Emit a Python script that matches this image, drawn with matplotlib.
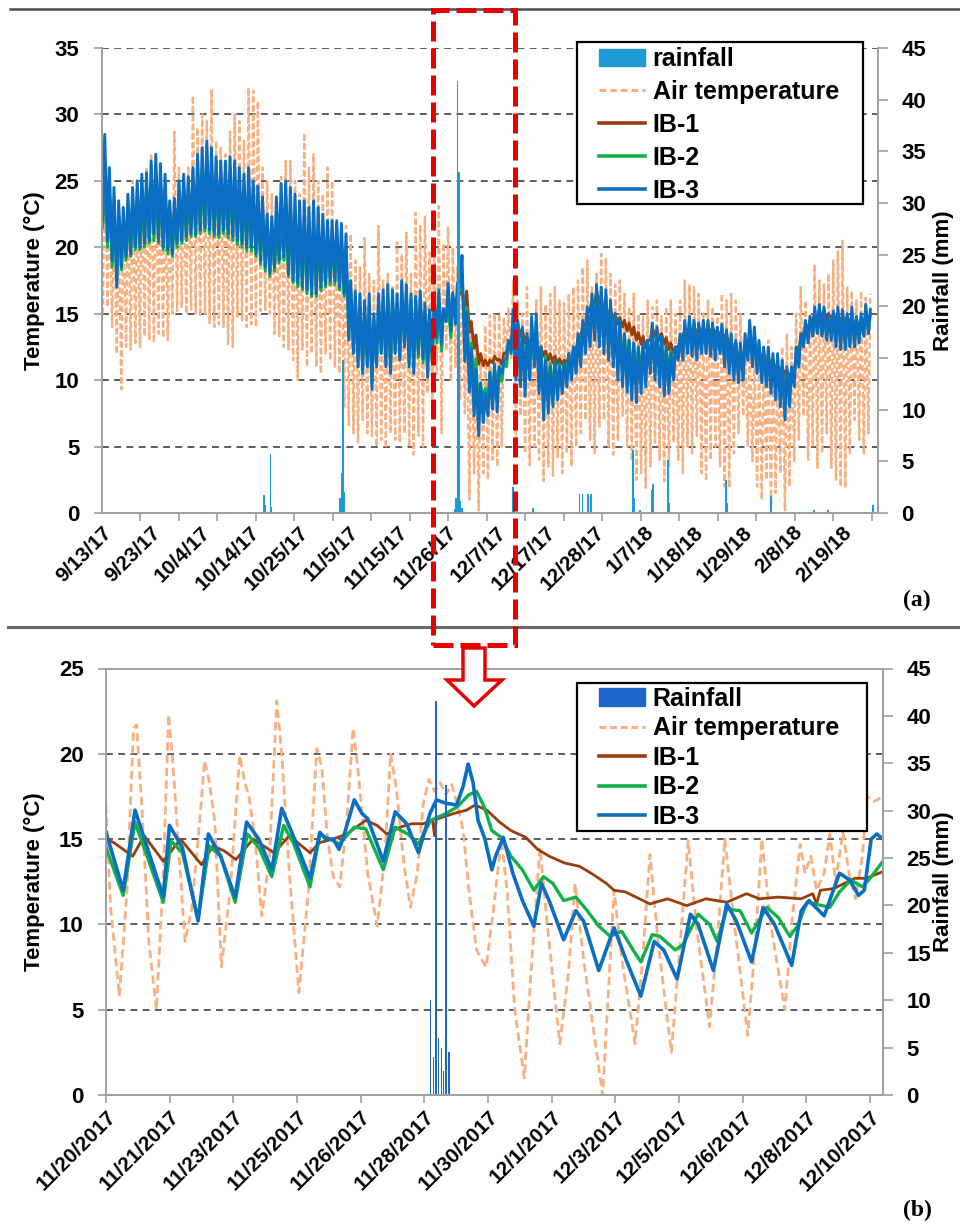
import numpy as np
import matplotlib
matplotlib.use("Agg")
import matplotlib.pyplot as plt
from matplotlib.patches import Patch, Rectangle, Polygon
from matplotlib.lines import Line2D

plt.rcParams['font.family'] = ['Liberation Sans', 'DejaVu Sans']
plt.rcParams['font.weight'] = 'bold'

# ---------------- Panel (a): daily min / max, day 0 = 9/13/17 ----------------
a_air_max = [
    27, 25, 23, 22, 23, 24, 25, 24, 25, 26,
    27, 26.5, 25, 24.5, 23, 28.7, 26, 25, 26, 31.4,
    29, 30, 29.5, 31.9, 28, 27.5, 27, 28.7, 30, 29.5,
    28, 32, 31.8, 31, 26, 25, 24, 23, 25.3, 26.5,
    26.5, 25, 24, 28.6, 26, 27, 25, 24, 26, 25,
    22, 21.5, 21.6, 21, 19, 18.5, 20.7, 18, 17.5, 21.6,
    17.5, 18, 17, 20.4, 19.5, 21.1, 18, 22.6, 21.7, 22.3,
    19.6, 19.9, 23.1, 20.3, 21.5, 20, 18.5, 18.3, 15.4, 14.5,
    12.4, 12, 14.1, 14.9, 15, 15, 14.7, 15.4, 17.5, 16,
    15, 17, 14.8, 16, 17, 15.7, 16.5, 17, 16, 15.8,
    16.5, 17, 17.5, 18.5, 19, 17, 18, 19.5, 19.2, 18,
    17.2, 17.5, 16.5, 15.5, 16.5, 15, 14.8, 16, 15.5, 16,
    14.8, 15.5, 16, 15, 16, 17.5, 17.2, 17, 16.5, 15,
    16, 15.5, 14.8, 16.5, 16, 16.5, 16, 15, 13.5, 12.5,
    12, 11.5, 12.5, 13, 12, 11.8, 12.5, 13.5, 12.5, 15,
    17, 16, 15, 18.7, 17.5, 17.2, 18, 19, 19.7, 20.5,
    17, 16.7, 16, 16.7, 16.2, 16.5]
a_air_min = [
    15, 15.5, 14, 12, 9.3, 12.5, 12.3, 12.8, 12.5, 13.3,
    13, 12.8, 13.5, 13.2, 13, 15, 15.2, 15.5, 15, 15.3,
    15, 14.8, 15, 14.3, 14, 14.2, 14, 12.7, 12.5, 14.8,
    14.5, 14, 14.2, 14, 15.2, 15.3, 15, 13.5, 13.3, 12.5,
    12.3, 11.5, 10, 12.3, 11, 12, 11, 10.5, 12, 11.5,
    11, 10.5, 8, 6.6, 6, 5.3, 7, 6, 5.8, 5,
    5.5, 4.9, 6, 5.5, 5.3, 6, 5, 4.4, 5.8, 5.0,
    9.0, 7.5, 10.5, 6.0, 12.2, 9.9, 11, 8.5, 7.5, 1.0,
    3.0, 0.2, 3.0, 2.5, 4.0, 3.5, 5.0, 12, 11.5, 5.5,
    7.3, 4.5, 3.6, 5, 4, 2.4, 3.5, 2.8, 4.2, 3,
    4.5, 3.5, 5, 6, 7, 5.5, 4.5, 6.5, 7, 5,
    4.4, 5.5, 7.3, 5, 3.9, 2.5, 3, 1.9, 3.5, 5.3,
    4, 2.4, 3.5, 5.3, 4, 3, 5, 4.5, 5.8, 3,
    2.4, 4, 5, 3.5, 2, 1.9, 4.5, 6, 7.3, 5,
    3.9, 2, 1, 2.5, 0.5, 1.5, 3, 0.2, 2, 3.9,
    5.5, 7.3, 4, 5, 3.4, 4.5, 6, 3.4, 2.5, 2,
    1.9, 4.4, 7, 5.5, 4.4, 6]
a_ib1_max = [
    24, 23, 22, 21.5, 21.5, 22, 22.5, 22.5, 23, 23,
    23.5, 23.5, 23.5, 23, 22.5, 22, 22.5, 23, 23, 23.5,
    24, 24, 24.5, 24.5, 24, 24, 23.5, 23.5, 23.5, 23,
    23, 22.5, 22.5, 22, 21.5, 21, 20.5, 20.5, 21, 21.5,
    21, 20.5, 20, 20, 19.5, 19.5, 19.5, 19.5, 19.5, 19.5,
    19.5, 19, 18.5, 16.5, 15.5, 15, 14.5, 14.5, 14, 14.5,
    15, 15, 15, 15, 15.5, 15.5, 15, 15, 15.2, 15.0,
    14.6, 15.0, 15.2, 14.8, 15.3, 16.1, 16.3, 17.0, 16.7, 14.4,
    13.4, 12.0, 11.5, 11.5, 11.8, 11.6, 12.0, 12.7, 14.5, 14.3,
    13.8, 13.3, 13, 12.8, 12.5, 12.2, 12, 11.8, 11.6, 11.5,
    11.8, 12.3, 13, 14, 15, 16, 16.7, 16.3, 15.7, 15.3,
    15, 14.7, 14.5, 14.3, 14, 13.6, 13.3, 13, 14, 13.8,
    13.5, 13.2, 12.8, 12.5, 13, 13.8, 14, 14, 14, 14,
    14, 14, 13.8, 13.8, 13.5, 13, 12.5, 12, 12.5, 12.8,
    12.6, 12.3, 12, 11.8, 11.5, 11.2, 11, 10.8, 10.6, 11.5,
    13, 14, 14.5, 15, 15.2, 15.2, 15, 15, 15, 14.8,
    14.8, 14.8, 14.5, 14.5, 14.8, 15]
a_ib1_min = [
    22.5, 21.5, 20.5, 20, 20, 20.5, 21, 21.2, 21.5, 21.5,
    22, 22, 22, 21.5, 21, 20.8, 21, 21.5, 21.5, 22,
    22.5, 22.5, 22.8, 22.8, 22.5, 22.3, 22, 22, 22, 21.5,
    21.5, 21, 21, 20.5, 20, 19.5, 19, 19, 19.5, 20,
    19.5, 19, 18.5, 18.5, 18, 18, 18, 18, 18.2, 18.5,
    18.5, 18, 17, 15, 14, 13.5, 13, 13, 12.5, 13,
    13.5, 13.5, 13.5, 13.5, 14, 14, 13.5, 13.5, 14.0, 13.7,
    13.5, 13.8, 14.2, 14.2, 15.0, 15.3, 15.9, 16.5, 15.1, 13.6,
    12.4, 11.2, 11.1, 11.1, 11.3, 11.5, 11.2, 12.1, 12.7, 13.8,
    13.3, 12.8, 12.5, 12.3, 12, 11.8, 11.5, 11.3, 11.2, 11.2,
    11.3, 11.6, 12.3, 13.3, 14.3, 15.3, 15.8, 15.7, 15, 14.7,
    14.5, 14.2, 14, 13.7, 13.4, 13, 12.7, 12.4, 13, 13.3,
    13, 12.7, 12.3, 12, 12.5, 13.3, 13.5, 13.5, 13.5, 13.5,
    13.5, 13.5, 13.3, 13.3, 13, 12.5, 12, 11.5, 11.8, 12.3,
    12.1, 11.8, 11.5, 11.3, 11, 10.8, 10.5, 10.3, 10.2, 10.8,
    12.5, 13.5, 14, 14.5, 14.7, 14.7, 14.5, 14.5, 14.5, 14.3,
    14.3, 14.3, 14, 14, 14.3, 14.5]
a_ib2_max = [
    26, 24.5, 23, 22.5, 22, 23, 23.5, 24, 24, 24.5,
    25, 25.5, 25, 24.5, 23, 22.5, 24, 24.5, 24.5, 25,
    25.5, 26, 26.5, 26, 25.5, 25.5, 25.5, 25.5, 25, 25,
    24.5, 24.5, 24, 23.5, 23, 22, 21.5, 22.5, 23, 23.5,
    23, 22.5, 22, 22, 21.5, 22, 21.5, 21, 21, 21,
    21, 20.5, 20, 17, 16, 15.5, 15, 15.5, 14.5, 15.5,
    16, 16.3, 16, 15.8, 16.5, 16.5, 16, 15.8, 16, 14.9,
    14.6, 15.3, 15.8, 15.3, 15.7, 15.7, 16.5, 17.8, 15.5, 12.8,
    11.6, 9.6, 9.4, 10.6, 10.9, 11.0, 11.3, 12.6, 13.7, 14,
    13.5, 13, 14, 14.3, 12.5, 11.8, 11.3, 11.5, 11.2, 11.3,
    12, 12.3, 13.2, 14.2, 15.2, 16, 16.7, 16.5, 16.2, 15.6,
    14.7, 14.2, 13.5, 13, 12.8, 12.5, 12.6, 12.8, 13.8, 13.6,
    13.2, 12.6, 12.2, 12.4, 13.2, 14, 14.4, 14.3, 14.1, 14.2,
    14.2, 14, 13.8, 13.9, 13.5, 13.2, 12.8, 12.5, 13, 14,
    13.5, 12.7, 12.2, 12, 11.6, 11.3, 11, 10.6, 10.5, 12,
    13.3, 14.2, 14.5, 15, 15.3, 15.2, 14.8, 14.9, 15.1, 15,
    14.8, 15, 14.6, 14.7, 15.2, 15]
a_ib2_min = [
    21.5, 20, 18.5, 17.5, 18.3, 19, 19.3, 19.8, 19.8, 20,
    20.3, 20.5, 20.3, 19.8, 19.5, 19.3, 20, 20.3, 20.5, 20.8,
    20.8, 21, 21.2, 21, 20.8, 20.7, 21, 20.7, 20.5, 20.2,
    20, 19.7, 19.7, 19.3, 18.7, 18.2, 17.8, 18.2, 18.8, 19,
    17.8, 17.3, 17, 16.8, 16.5, 16.3, 16.3, 16.7, 17, 17.2,
    17.2, 16.8, 16.3, 13.3, 12.5, 11.5, 11, 11.3, 9.8, 11.3,
    12.3, 11.5, 11, 12.3, 12, 12.8, 11.5, 11, 11.7, 11.3,
    10.3, 11.3, 12.8, 12.2, 14.7, 13.2, 14.7, 16.9, 13.2, 11.4,
    9.9, 7.8, 8.5, 8.8, 9.0, 9.3, 9.9, 11.0, 12.2, 11,
    10.5, 10, 10.8, 11.5, 10, 8.5, 8.5, 9, 9.5, 9.8,
    10.3, 10.8, 11.3, 11.8, 12.7, 13.3, 13.8, 13.5, 13, 12.5,
    11.8, 11, 10.8, 10.6, 10.3, 10.3, 10.5, 10.8, 11.3, 11,
    10.5, 10.2, 10.2, 10.8, 12, 12.3, 12.5, 12.3, 12.2, 12.4,
    12.4, 12.3, 12, 12.3, 11.8, 11.3, 10.8, 10.5, 10.8, 12,
    11.5, 11, 10.5, 10.3, 9.8, 9.5, 9.2, 8.5, 9, 10.2,
    11.8, 12.8, 13.2, 13.5, 13.6, 13.5, 13.2, 13.3, 13, 12.9,
    12.8, 13, 13, 13.2, 13.5, 13.7]
a_ib3_max = [
    28.5, 26, 24.5, 23.5, 23, 24, 24.5, 25, 25.5, 25.6,
    26.5, 27, 26.3, 25.5, 23.5, 23.7, 25, 25.5, 25.3, 26,
    27, 27.5, 28, 27.5, 26.8, 26.5, 26.5, 26.8, 26.5, 26,
    25.5, 26, 25, 24.6, 23.8, 22.5, 22.3, 23.8, 24.8, 25,
    24.5, 24, 23.5, 23.5, 23, 23.5, 23, 22.5, 22, 22,
    22, 21.8, 21, 17.5, 16.7, 16.5, 16, 16.5, 15, 16.5,
    16.8, 17.2, 16.8, 16.5, 17.5, 17.2, 16.5, 16.3, 16.7, 15.8,
    15.3, 16, 16.8, 15.4, 17.3, 16.6, 17.3, 19.4, 15.1, 12.4,
    10.8, 9.8, 9.0, 10.6, 11.2, 11.0, 11.4, 13.0, 15.3, 14.5,
    14, 13.5, 14.8, 15, 12.5, 11.5, 11, 11.5, 11, 11.3,
    12, 12.5, 13.5, 14.5, 15.5, 16.5, 17.2, 17, 16.8, 16,
    15, 14.5, 13.5, 13, 12.8, 12.5, 12.8, 13, 14.3, 14,
    13.3, 12.5, 12, 12.5, 13.5, 14.5, 14.8, 14.5, 14.3, 14.5,
    14.5, 14.3, 14, 14.2, 13.8, 13.5, 13, 12.8, 13.5, 14.5,
    14, 13, 12.5, 12.5, 12, 12, 11.5, 11, 11, 12.5,
    13.5, 14.5, 14.8, 15.5, 15.7, 15.5, 15, 15.2, 15.5, 15.3,
    15, 15.5, 14.8, 15, 15.7, 15.3]
a_ib3_min = [
    22, 20.5, 19, 17, 18.5, 19.3, 19.5, 20, 20, 20.3,
    20.5, 21, 20.5, 20, 19.8, 19.5, 20.3, 20.5, 20.8, 21,
    21, 21.3, 21.5, 21.3, 21, 21, 21.3, 21, 20.8, 20.5,
    20.3, 20, 20, 19.5, 19, 18.5, 18, 18.5, 19, 19.3,
    18, 17.5, 17.3, 17, 16.8, 16.5, 16.5, 17, 17.2, 17.5,
    17.5, 17, 16.5, 13, 12, 11, 10.5, 11, 9.3, 11,
    12, 11, 10.5, 12, 11.5, 12.5, 11, 10.5, 12, 11.6,
    10.2, 11.6, 13.2, 12.7, 14.4, 13.7, 14.2, 17.0, 11.4, 9.1,
    7.3, 5.8, 6.8, 7.3, 7.8, 7.6, 10.5, 11.7, 12, 10,
    9.5, 8.8, 10, 11, 9, 7, 7.5, 8, 8.5, 9,
    9.5, 10, 10.5, 11, 12, 12.5, 13, 12.5, 12, 11.5,
    11, 10, 9.5, 9.1, 8.5, 8.3, 9, 9.5, 10.5, 10,
    9.5, 8.8, 9, 10, 11.5, 11.5, 12, 11.8, 11.5, 12,
    12, 11.8, 11.5, 12, 11, 10.5, 10, 9.8, 10, 11.5,
    11, 10.5, 9.8, 9.5, 9, 8.5, 8, 7, 8, 9.5,
    11, 12.5, 12.8, 13.3, 13.5, 13.3, 13, 13, 12.5, 12.3,
    12.3, 12.5, 12.5, 12.8, 13.3, 13.5]
a_rain_day = [35.0, 35.3, 36.4, 36.6, 51.4, 51.8, 52.0, 52.3, 76.0, 76.4, 76.7,
              77.0, 77.2, 77.6, 88.6, 88.9, 92.9, 103.0, 103.6, 104.8, 105.5,
              114.5, 114.8, 116.0, 118.5, 118.8, 122.0, 122.3, 134.5, 134.8,
              144.2, 153.5, 156.5, 166.2]
a_rain_mm = [1.7, 0.8, 5.7, 0.6, 1.5, 3.9, 14.8, 2.0, 0.4, 1.5, 41.8,
             33.0, 1.2, 0.5, 2.5, 0.8, 0.5, 1.8, 1.8, 1.8, 1.8,
             6.1, 1.5, 0.3, 2.2, 2.8, 5.1, 1.0, 3.2, 1.0,
             1.6, 0.3, 0.3, 0.8]
a_labels = ['9/13/17', '9/23/17', '10/4/17', '10/14/17', '10/25/17', '11/5/17',
            '11/15/17', '11/26/17', '12/7/17', '12/17/17', '12/28/17', '1/7/18',
            '1/18/18', '1/29/18', '2/8/18', '2/19/18']

# ---------------- Panel (b): time in days from 11/20/2017 00:00 ----------------
b_air_t = [0.0, 0.12, 0.35, 0.55, 0.72, 0.8, 0.95, 1.12, 1.32, 1.5,
           1.64, 1.75, 1.9, 2.07, 2.25, 2.45, 2.58, 2.7, 2.85, 3.02,
           3.25, 3.5, 3.62, 3.75, 3.9, 4.08, 4.28, 4.47, 4.6, 4.8,
           5.05, 5.3, 5.52, 5.65, 5.8, 5.95, 6.12, 6.3, 6.47, 6.6,
           6.85, 7.1, 7.3, 7.45, 7.6, 7.8, 7.97, 8.15, 8.3, 8.45,
           8.6, 8.75, 8.9, 9.05, 9.2, 9.35, 9.5, 9.7, 9.95, 10.15,
           10.35, 10.5, 10.7, 10.95, 11.15, 11.36, 11.55, 11.88, 12.1, 12.28,
           12.5, 13.0, 13.15, 13.3, 13.5, 13.85, 14.05, 14.24, 14.45, 14.8,
           15.0, 15.24, 15.45, 15.8, 16.0, 16.2, 16.45, 16.8, 17.0, 17.17,
           17.4, 17.77, 17.95, 18.17, 18.3, 18.45, 18.6, 18.8, 18.95, 19.1,
           19.29, 19.45, 19.62, 19.8, 19.92, 20.1, 20.34]
b_air_v = [17.0, 11.0, 5.8, 12.0, 21.5, 21.7, 16.5, 9.0, 5.0, 13.0,
           22.3, 19.5, 14.5, 9.0, 11.0, 16.0, 19.6, 18.4, 16.0, 7.5,
           12.0, 19.9, 18.5, 17.4, 15.0, 10.5, 14.0, 23.1, 20.0, 13.0,
           6.0, 12.0, 20.3, 19.2, 15.0, 12.8, 12.2, 16.0, 21.5, 19.0,
           13.0, 9.9, 14.0, 20.0, 18.0, 13.5, 11.0, 13.0, 17.0, 18.5,
           17.8, 18.3, 17.6, 18.2, 17.0, 15.5, 12.0, 8.5, 7.5, 11.0,
           15.0, 12.0, 5.0, 1.0, 8.0, 14.5, 10.0, 3.0, 7.0, 12.4,
           8.0, 0.0, 6.0, 12.0, 8.0, 3.0, 8.0, 14.1, 9.0, 2.5,
           8.0, 14.9, 10.0, 4.0, 9.0, 15.0, 10.0, 3.5, 9.0, 15.0,
           10.0, 5.0, 10.0, 14.7, 13.0, 14.0, 12.0, 13.0, 15.3, 12.5,
           15.4, 13.0, 11.5, 14.0, 17.5, 17.2, 17.5]
b_ib1_t = [0.0, 0.2, 0.7, 1.0, 1.5, 1.95, 2.5, 2.8, 3.1, 3.4,
           3.85, 4.4, 4.8, 5.34, 5.6, 5.95, 6.3, 6.8, 7.1, 7.35,
           7.7, 8.0, 8.3, 8.55, 8.6, 8.65, 8.7, 9.1, 9.44, 9.66,
           9.97, 10.3, 10.6, 10.99, 11.3, 11.6, 12.0, 12.4, 12.7, 13.1,
           13.3, 13.6, 14.24, 14.7, 15.2, 15.7, 16.25, 16.77, 17.1, 17.6,
           18.2, 18.5, 18.6, 18.7, 19.05, 19.6, 19.9, 20.34]
b_ib1_v = [15.0, 14.8, 14.0, 15.2, 13.7, 15.0, 13.5, 14.6, 14.3, 13.8,
           15.0, 14.2, 15.2, 14.2, 14.8, 15.0, 15.3, 16.1, 15.8, 15.3,
           15.7, 15.9, 15.9, 16.1, 15.2, 16.2, 16.2, 16.5, 16.7, 17.0,
           16.7, 16.0, 15.5, 15.1, 14.4, 14.0, 13.6, 13.4, 13.0, 12.4,
           12.0, 11.9, 11.2, 11.5, 11.1, 11.5, 11.3, 11.8, 11.5, 11.6,
           11.5, 11.8, 11.2, 12.0, 12.1, 12.7, 12.7, 13.1]
b_ib2_t = [0.0, 0.45, 0.76, 1.5, 1.7, 2.0, 2.41, 2.7, 3.0, 3.38,
           3.7, 4.0, 4.34, 4.65, 4.9, 5.34, 5.6, 5.95, 6.1, 6.5,
           6.8, 7.26, 7.57, 7.9, 8.18, 8.5, 8.9, 9.2, 9.5, 9.7,
           9.9, 10.1, 10.35, 10.6, 10.9, 11.2, 11.45, 11.7, 11.98, 12.3,
           12.6, 12.9, 13.2, 13.5, 13.8, 14.0, 14.3, 14.5, 14.9, 15.1,
           15.5, 15.8, 16.0, 16.25, 16.6, 16.9, 17.3, 17.6, 17.9, 18.1,
           18.35, 18.95, 19.2, 19.5, 19.8, 20.0, 20.34]
b_ib2_v = [14.5, 11.7, 16.0, 11.3, 14.9, 14.2, 10.3, 14.6, 14.0, 11.3,
           15.3, 14.5, 12.8, 15.8, 14.8, 12.2, 15.3, 14.9, 14.7, 15.7,
           15.6, 13.2, 15.7, 15.3, 14.7, 16.1, 16.5, 16.9, 17.6, 17.8,
           16.9, 15.5, 15.1, 14.0, 13.2, 12.0, 12.8, 12.4, 11.4, 11.6,
           10.8, 9.9, 9.3, 9.6, 8.5, 7.8, 9.4, 9.3, 8.5, 8.8,
           10.6, 10.0, 9.0, 10.9, 10.8, 9.5, 11.0, 10.4, 9.3, 9.9,
           11.3, 11.0, 11.9, 12.6, 12.2, 12.7, 13.7]
b_ib3_t = [0.0, 0.45, 0.76, 1.5, 1.66, 2.0, 2.41, 2.68, 3.0, 3.38,
           3.68, 4.0, 4.34, 4.6, 4.9, 5.34, 5.6, 5.75, 5.95, 6.1,
           6.2, 6.5, 6.7, 6.85, 7.26, 7.57, 7.87, 8.18, 8.48, 8.65,
           8.9, 9.18, 9.35, 9.48, 9.61, 9.74, 9.92, 10.1, 10.2, 10.4,
           10.65, 10.9, 11.2, 11.4, 11.6, 11.98, 12.3, 12.5, 12.9, 13.3,
           13.6, 14.0, 14.35, 14.6, 14.95, 15.3, 15.5, 15.9, 16.25, 16.5,
           16.9, 17.2, 17.5, 17.95, 18.2, 18.4, 18.8, 19.2, 19.47, 19.7,
           19.85, 20.03, 20.18, 20.34]
b_ib3_v = [15.4, 12.0, 16.7, 11.6, 15.8, 14.5, 10.2, 15.3, 14.0, 11.6,
           16.0, 15.0, 13.2, 16.8, 15.2, 12.7, 15.4, 15.0, 15.0, 14.4,
           15.0, 17.3, 16.5, 16.2, 13.7, 16.6, 15.9, 14.2, 16.5, 17.3,
           17.1, 17.0, 18.1, 19.4, 18.3, 16.1, 15.0, 13.2, 14.0, 15.1,
           13.0, 11.4, 9.9, 12.4, 11.4, 9.1, 10.8, 10.2, 7.3, 9.8,
           8.0, 5.8, 9.0, 8.5, 6.8, 10.6, 10.0, 7.3, 11.2, 10.2,
           7.8, 11.0, 10.0, 7.6, 10.8, 11.4, 10.5, 13.0, 12.6, 11.7,
           12.0, 15.0, 15.3, 15.0]
b_rain_t = [8.5, 8.58, 8.64, 8.7, 8.78, 8.84, 8.9, 8.98]
b_rain_mm = [10.0, 4.0, 41.6, 6.0, 5.0, 2.5, 32.7, 4.5]
b_labels = ['11/20/2017', '11/21/2017', '11/23/2017', '11/25/2017', '11/26/2017',
            '11/28/2017', '11/30/2017', '12/1/2017', '12/3/2017', '12/5/2017',
            '12/6/2017', '12/8/2017', '12/10/2017']

# ---------------- styling ----------------
C_AIR = '#F8B080'
C_IB1 = '#9A3D0E'
C_IB2 = '#12B04A'
C_IB3 = '#0A6FC2'
C_RAIN_A = '#1E9AD6'
C_RAIN_B = '#1F66CC'
SPINE = '#A0A0A0'
RED = '#E60000'

W, H = 960, 1229
fig = plt.figure(figsize=(W / 100, H / 100), dpi=100)


def box(l, t, r, b):
    return [l / W, 1 - b / H, (r - l) / W, (b - t) / H]


def fx(px):
    return px / W


def fy(py):
    return 1 - py / H


def zigzag(lo, hi):
    n = min(len(lo), len(hi))
    d = np.arange(n, dtype=float)
    t = np.column_stack([d + 0.25, d + 0.65]).ravel()
    v = np.column_stack([np.asarray(lo[:n], float), np.asarray(hi[:n], float)]).ravel()
    return t, v


def pair(t, v):
    n = min(len(t), len(v))
    return t[:n], v[:n]


def common(ax, axr, top_spine):
    for a in (ax, axr):
        for s in a.spines.values():
            s.set_color(SPINE)
            s.set_linewidth(1.3)
        a.spines['top'].set_visible(top_spine)
    ax.yaxis.grid(True, color='#303030', ls=(0, (4.5, 3.5)), lw=1.1)
    ax.set_axisbelow(True)
    ax.tick_params(axis='y', length=6, width=1.2, color=SPINE, labelsize=16, pad=10)
    axr.tick_params(axis='y', length=7, width=1.2, color=SPINE, labelsize=16, pad=10)
    axr.set_ylim(0, 45)
    axr.set_yticks(range(0, 46, 5))


def make_legend(rain_col, rain_label, frame_px, top_px, spacing):
    l, t, r, b = frame_px
    fig.add_artist(Rectangle((fx(l), fy(b)), (r - l) / W, (b - t) / H,
                             transform=fig.transFigure, fc='white', ec='black',
                             lw=1.6, zorder=18))
    handles = [Patch(facecolor=rain_col, edgecolor=rain_col),
               Line2D([], [], color=C_AIR, lw=2.2, ls=(0, (2.2, 1.3))),
               Line2D([], [], color=C_IB1, lw=2.6),
               Line2D([], [], color=C_IB2, lw=2.6),
               Line2D([], [], color=C_IB3, lw=2.6)]
    labels = [rain_label, 'Air temperature', 'IB-1', 'IB-2', 'IB-3']
    leg = fig.legend(handles, labels, loc='upper left',
                     bbox_to_anchor=(fx(l + 22), fy(top_px)),
                     bbox_transform=fig.transFigure, borderaxespad=0, borderpad=0,
                     frameon=False, fontsize=18, handlelength=1.85,
                     handletextpad=0.3, labelspacing=spacing)
    leg.set_zorder(19)


# ---------------- panel (a) ----------------
ax1 = fig.add_axes(box(101.7, 48, 878, 513))
ax1r = ax1.twinx()
t, v = zigzag(a_air_min, a_air_max)
ax1.plot(t, v, color=C_AIR, lw=1.7, ls=(0, (2.6, 1.2)))
for lo, hi, c in ((a_ib1_min, a_ib1_max, C_IB1), (a_ib2_min, a_ib2_max, C_IB2),
                  (a_ib3_min, a_ib3_max, C_IB3)):
    t, v = zigzag(lo, hi)
    ax1.plot(t, v, color=c, lw=2.1)
ax1r.bar(a_rain_day, a_rain_mm, width=0.35, color=C_RAIN_A, lw=0)
common(ax1, ax1r, False)
ax1.set_ylim(0, 35)
ax1.set_yticks(range(0, 36, 5))
ax1.set_xlim(0, 167.3)
ax1.set_xticks(np.arange(len(a_labels)) * 10.63)
ax1.set_xticklabels(a_labels, rotation=45, ha='right', va='top',
                    rotation_mode='anchor', fontsize=15)
ax1.set_xticks(np.arange(0, 167, 8.3), minor=True)
ax1.tick_params(axis='x', which='major', length=0, pad=7)
ax1.tick_params(axis='x', which='minor', length=6, width=1.2, color=SPINE)
make_legend(C_RAIN_A, 'rainfall', (577, 42, 863, 204), 47, 0.36)

# ---------------- panel (b) ----------------
ax2 = fig.add_axes(box(106, 668.5, 883, 1095))
ax2r = ax2.twinx()
ax2.plot(*pair(b_air_t, b_air_v), color=C_AIR, lw=2.0, ls=(0, (3, 1.6)))
ax2.plot(*pair(b_ib1_t, b_ib1_v), color=C_IB1, lw=2.0)
ax2.plot(*pair(b_ib2_t, b_ib2_v), color=C_IB2, lw=2.4)
ax2.plot(*pair(b_ib3_t, b_ib3_v), color=C_IB3, lw=2.6)
ax2r.bar(b_rain_t, b_rain_mm, width=0.035, color=C_RAIN_B, lw=0)
common(ax2, ax2r, True)
ax2.set_ylim(0, 25)
ax2.set_yticks(range(0, 26, 5))
ax2.set_xlim(0, 20.34)
ax2.set_xticks(np.arange(len(b_labels)) * (20 / 12))
ax2.set_xticklabels(b_labels, rotation=45, ha='right', va='top',
                    rotation_mode='anchor', fontsize=15)
ax2.tick_params(axis='x', which='major', length=6, width=1.2, color=SPINE, pad=3)
make_legend(C_RAIN_B, 'Rainfall', (577, 683, 867, 831), 687, 0.22)

# ---------------- axis titles & annotations ----------------
for yc in (280.5, 882):
    fig.text(fx(34), fy(yc), 'Temperature (°C)', rotation=90,
             ha='center', va='center', fontsize=16)
    fig.text(fx(944), fy(yc), 'Rainfall (mm)', rotation=90,
             ha='center', va='center', fontsize=16)

fig.text(fx(917), fy(600), '(a)', family=['Liberation Serif', 'DejaVu Serif'],
         fontsize=17, ha='center', va='center')
fig.text(fx(917), fy(1210), '(b)', family=['Liberation Serif', 'DejaVu Serif'],
         fontsize=17, ha='center', va='center')

fig.add_artist(Line2D([fx(10), 1], [fy(9)] * 2, color='#4d4d4d', lw=1.8))
fig.add_artist(Line2D([fx(8), 1], [fy(627)] * 2, color='#6a6a6a', lw=2.2))

fig.add_artist(Rectangle((fx(433), fy(645)), (515 - 433) / W, (645 - 10) / H,
                         transform=fig.transFigure, fill=False, ec=RED, lw=3.6,
                         ls=(0, (4, 1.4)), zorder=30))
arrow_px = [(463, 648), (485, 648), (485, 680), (502, 680), (474, 706), (447, 680), (463, 680)]
fig.add_artist(Polygon([(fx(x), fy(y)) for x, y in arrow_px], closed=True,
                       transform=fig.transFigure, fc='white', ec=RED, lw=2.5, zorder=30))

fig.savefig('out.png', dpi=100)
